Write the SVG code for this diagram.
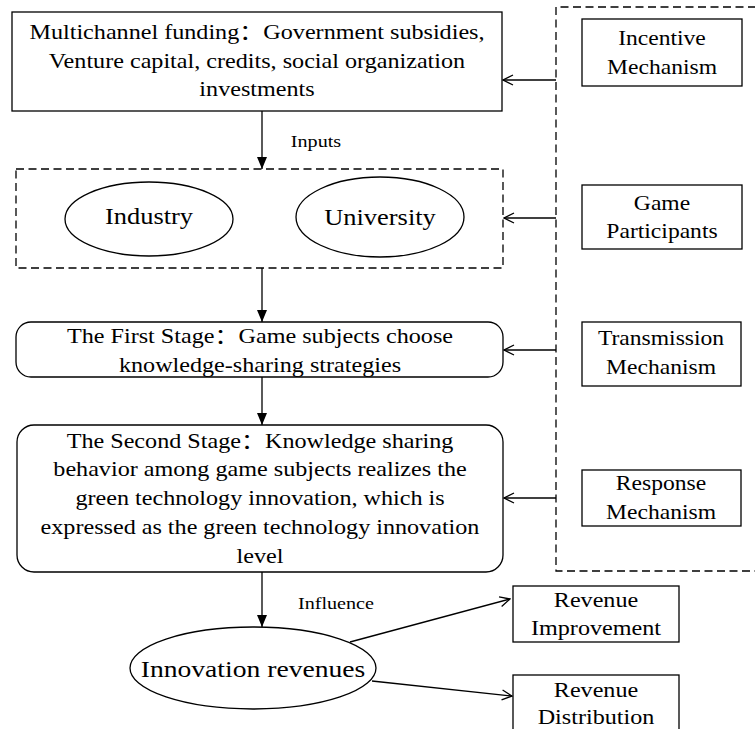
<svg xmlns="http://www.w3.org/2000/svg" width="755" height="729" viewBox="0 0 755 729">
<style>
.box{fill:#fff;stroke:#000;stroke-width:1.3}
.dash{fill:none;stroke:#000;stroke-width:1.3;stroke-dasharray:8 4.5}
.ln{fill:none;stroke:#000;stroke-width:1.3}
text{font-family:"Liberation Serif","Noto Sans CJK SC",serif;fill:#000;text-anchor:middle}
.f21{font-size:21px}
.f23{font-size:23px}
.f24{font-size:24px}
.f20{font-size:20.5px}
.f18{font-size:17.5px}
</style>
<defs>
<marker id="fill" viewBox="0 0 12 10" refX="12" refY="5" markerWidth="12" markerHeight="10" markerUnits="userSpaceOnUse" orient="auto">
<path d="M0,0 L12,5 L0,10 Z" fill="#000"/>
</marker>
<marker id="open" viewBox="0 0 12 12" refX="11" refY="6" markerWidth="12" markerHeight="12" markerUnits="userSpaceOnUse" orient="auto">
<path d="M1,1 L11,6 L1,11" fill="none" stroke="#000" stroke-width="1.3"/>
</marker>
</defs>

<g id="mechanisms-frame">
<path class="dash" d="M756,7 H556 V571 H756"/>
</g>

<g id="funding">
<rect class="box" x="12" y="12" width="490" height="99"/>
<g transform="translate(257,0) scale(1.15,1)">
<text class="f21" x="0" y="39">Multichannel funding：Government subsidies,</text>
<text class="f21" x="0" y="68">Venture capital, credits, social organization</text>
<text class="f21" x="0" y="96">investments</text>
</g>
</g>

<g id="participants-group">
<rect class="dash" x="16" y="169" width="487" height="99"/>
<g id="industry">
<ellipse class="box" cx="149" cy="219" rx="84" ry="37"/>
<g transform="translate(149,0) scale(1.15,1)"><text class="f23" x="0" y="224">Industry</text></g>
</g>
<g id="university">
<ellipse class="box" cx="380" cy="217" rx="84" ry="40"/>
<g transform="translate(380,0) scale(1.15,1)"><text class="f23" x="0" y="225">University</text></g>
</g>
</g>

<g id="first-stage">
<rect class="box" x="16" y="322" width="487" height="55" rx="15" ry="15"/>
<g transform="translate(260,0) scale(1.15,1)">
<text class="f21" x="0" y="343">The First Stage：Game subjects choose</text>
<text class="f21" x="0" y="372">knowledge-sharing strategies</text>
</g>
</g>

<g id="second-stage">
<rect class="box" x="17" y="425" width="486" height="147" rx="17" ry="17"/>
<g transform="translate(260,0) scale(1.15,1)">
<text class="f21" x="0" y="448">The Second Stage：Knowledge sharing</text>
<text class="f21" x="0" y="476">behavior among game subjects realizes the</text>
<text class="f21" x="0" y="505">green technology innovation, which is</text>
<text class="f21" x="0" y="534">expressed as the green technology innovation</text>
<text class="f21" x="0" y="563">level</text>
</g>
</g>

<g id="innovation-revenues">
<ellipse class="box" cx="253" cy="668" rx="123" ry="41"/>
<g transform="translate(253,0) scale(1.15,1)"><text class="f24" x="0" y="677">Innovation revenues</text></g>
</g>

<g id="revenue-improvement">
<rect class="box" x="513" y="586" width="166" height="56"/>
<g transform="translate(596,0) scale(1.15,1)">
<text class="f21" x="0" y="607">Revenue</text>
<text class="f21" x="0" y="635">Improvement</text>
</g>
</g>

<g id="revenue-distribution">
<rect class="box" x="513" y="675" width="166" height="62"/>
<g transform="translate(596,0) scale(1.15,1)">
<text class="f21" x="0" y="697">Revenue</text>
<text class="f21" x="0" y="724">Distribution</text>
</g>
</g>

<g id="incentive-mechanism">
<rect class="box" x="582" y="19" width="160" height="67"/>
<g transform="translate(662,0) scale(1.15,1)">
<text class="f20" x="0" y="45">Incentive</text>
<text class="f20" x="0" y="74">Mechanism</text>
</g>
</g>

<g id="game-participants">
<rect class="box" x="582" y="185" width="160" height="64"/>
<g transform="translate(662,0) scale(1.15,1)">
<text class="f20" x="0" y="210">Game</text>
<text class="f20" x="0" y="238">Participants</text>
</g>
</g>

<g id="transmission-mechanism">
<rect class="box" x="582" y="322" width="159" height="64"/>
<g transform="translate(661,0) scale(1.15,1)">
<text class="f20" x="0" y="345">Transmission</text>
<text class="f20" x="0" y="374">Mechanism</text>
</g>
</g>

<g id="response-mechanism">
<rect class="box" x="582" y="470" width="159" height="56"/>
<g transform="translate(661,0) scale(1.15,1)">
<text class="f20" x="0" y="490">Response</text>
<text class="f20" x="0" y="519">Mechanism</text>
</g>
</g>

<g id="connectors">
<line class="ln" x1="262" y1="111" x2="262" y2="169" marker-end="url(#fill)"/>
<line class="ln" x1="262" y1="268" x2="262" y2="322" marker-end="url(#fill)"/>
<line class="ln" x1="262" y1="377" x2="262" y2="425" marker-end="url(#fill)"/>
<line class="ln" x1="262" y1="572" x2="262" y2="627" marker-end="url(#fill)"/>
<line class="ln" x1="556" y1="80" x2="503" y2="80" marker-end="url(#open)"/>
<line class="ln" x1="556" y1="218" x2="504" y2="218" marker-end="url(#open)"/>
<line class="ln" x1="556" y1="350" x2="504" y2="350" marker-end="url(#open)"/>
<line class="ln" x1="556" y1="498" x2="504" y2="498" marker-end="url(#open)"/>
<line class="ln" x1="350" y1="642" x2="510" y2="599" marker-end="url(#open)"/>
<line class="ln" x1="372" y1="681" x2="512" y2="696" marker-end="url(#open)"/>
<g transform="translate(316,0) scale(1.15,1)"><text class="f18" x="0" y="147">Inputs</text></g>
<g transform="translate(336,0) scale(1.15,1)"><text class="f18" x="0" y="609">Influence</text></g>
</g>
</svg>
